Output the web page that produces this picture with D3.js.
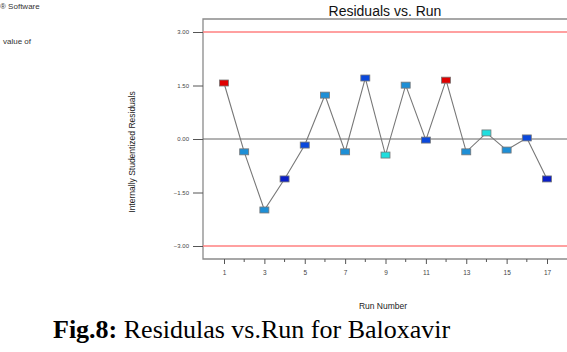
<!DOCTYPE html>
<html>
<head>
<meta charset="utf-8">
<script src="https://cdn.jsdelivr.net/npm/d3@7"></script>
<style>
  body { margin: 0; background: #fff; }
  svg { display: block; }
</style>
</head>
<body>
<div id="vis"></div>
<script>
// run numbers and residuals
var runs = [1, 2, 3, 4, 5, 6, 7, 8, 9, 10, 11, 12, 13, 14, 15, 16, 17];
var residuals = [1.57, -0.36, -1.99, -1.12, -0.17, 1.23, -0.36, 1.71, -0.45, 1.51, -0.03, 1.65, -0.36, 0.17, -0.31, 0.03, -1.12];
var pointColors = ["#e00000", "#1e8fd6", "#1e8fd6", "#0a1ec8", "#0a48dc", "#1e8fd6", "#1e8fd6", "#0a48dc", "#20dede",
                   "#1e8fd6", "#0a48dc", "#e00000", "#1e8fd6", "#20dede", "#1e8fd6", "#0a48dc", "#0a1ec8"];
var yTicks = [3, 1.5, 0, -1.5, -3];
var xTicks = [1, 3, 5, 7, 9, 11, 13, 15, 17];
var xMinor = [2, 4, 6, 8, 10, 12, 14, 16];
var limits = [3, -3];

var W = 567, H = 352;
var svg = d3.select("#vis").append("svg").attr("width", W).attr("height", H);

var plotLeft = 203, plotTop = 19, plotBottom = 259;

var x = d3.scaleLinear().domain([1, 17]).range([224, 547]);
var y = d3.scaleLinear().domain([-3, 3]).range([246, 32]);

var sans = "Arial, Liberation Sans, sans-serif";

// stray text cut off on the left
svg.append("text").attr("x", 0).attr("y", 9).attr("font-family", sans)
    .attr("font-size", 8).attr("fill", "#333").text("® Software");
svg.append("text").attr("x", 3).attr("y", 44).attr("font-family", sans)
    .attr("font-size", 8).attr("fill", "#333").text("value of");

// title
svg.append("text").attr("x", 385).attr("y", 16).attr("text-anchor", "middle")
    .attr("font-family", sans).attr("font-size", 14).attr("fill", "#111")
    .text("Residuals vs. Run");

// frame (right side runs off the picture)
svg.append("path").attr("d", "M" + W + "," + plotTop + "H" + plotLeft + "V" + plotBottom + "H" + W)
    .attr("fill", "none").attr("stroke", "#8a8a8a").attr("stroke-width", 1.3);

// limit lines
svg.selectAll(".limit").data(limits).enter().append("line")
    .attr("x1", plotLeft).attr("x2", W)
    .attr("y1", function (d) { return y(d); }).attr("y2", function (d) { return y(d); })
    .attr("stroke", "#ff8080").attr("stroke-width", 1.3);

// zero line
svg.append("line").attr("x1", plotLeft).attr("x2", W).attr("y1", y(0)).attr("y2", y(0))
    .attr("stroke", "#666").attr("stroke-width", 1);

// y axis
var yAxis = d3.axisLeft(y).tickValues(yTicks).tickSize(10).tickPadding(4)
    .tickFormat(d3.format(".2f"));
var gy = svg.append("g").attr("transform", "translate(" + plotLeft + ",0)").call(yAxis);
gy.select(".domain").remove();
gy.selectAll("line").attr("stroke", "#555");
gy.selectAll("text").attr("font-family", sans).attr("font-size", 6).attr("fill", "#444");

// x axis
var xAxis = d3.axisBottom(x).tickValues(xTicks).tickSize(5).tickPadding(6).tickFormat(d3.format("d"));
var gx = svg.append("g").attr("transform", "translate(0," + plotBottom + ")").call(xAxis);
gx.select(".domain").remove();
gx.selectAll("line").attr("stroke", "#555");
gx.selectAll("text").attr("font-family", sans).attr("font-size", 6.5).attr("fill", "#444");
gx.selectAll(".minor").data(xMinor).enter().append("line").attr("class", "minor")
    .attr("x1", function (d) { return x(d); }).attr("x2", function (d) { return x(d); })
    .attr("y1", 0).attr("y2", 3).attr("stroke", "#555");

// axis labels
svg.append("text").attr("x", 383).attr("y", 309).attr("text-anchor", "middle")
    .attr("font-family", sans).attr("font-size", 8.5).attr("fill", "#222")
    .text("Run Number");
svg.append("text").attr("transform", "translate(135,152) rotate(-90)").attr("text-anchor", "middle")
    .attr("font-family", sans).attr("font-size", 8.5).attr("fill", "#222")
    .text("Internally Studentized Residuals");

// connecting line
var pts = runs.map(function (r, i) { return { run: r, res: residuals[i], color: pointColors[i] }; });
svg.append("path").datum(pts)
    .attr("d", d3.line().x(function (d) { return x(d.run); }).y(function (d) { return y(d.res); }))
    .attr("fill", "none").attr("stroke", "#777").attr("stroke-width", 1.1);

// markers
svg.selectAll(".pt").data(pts).enter().append("rect").attr("class", "pt")
    .attr("x", function (d) { return x(d.run) - 4.5; })
    .attr("y", function (d) { return y(d.res) - 3; })
    .attr("width", 9).attr("height", 6)
    .attr("fill", function (d) { return d.color; })
    .attr("stroke", "#777").attr("stroke-width", 0.8);

// caption
var cap = svg.append("text").attr("x", 53).attr("y", 338)
    .attr("font-family", "Times New Roman, Liberation Serif, serif").attr("font-size", 26).attr("fill", "#000");
cap.append("tspan").attr("font-weight", "bold").text("Fig.8:");
cap.append("tspan").text(" Residulas vs.Run for Baloxavir");
</script>
</body>
</html>
